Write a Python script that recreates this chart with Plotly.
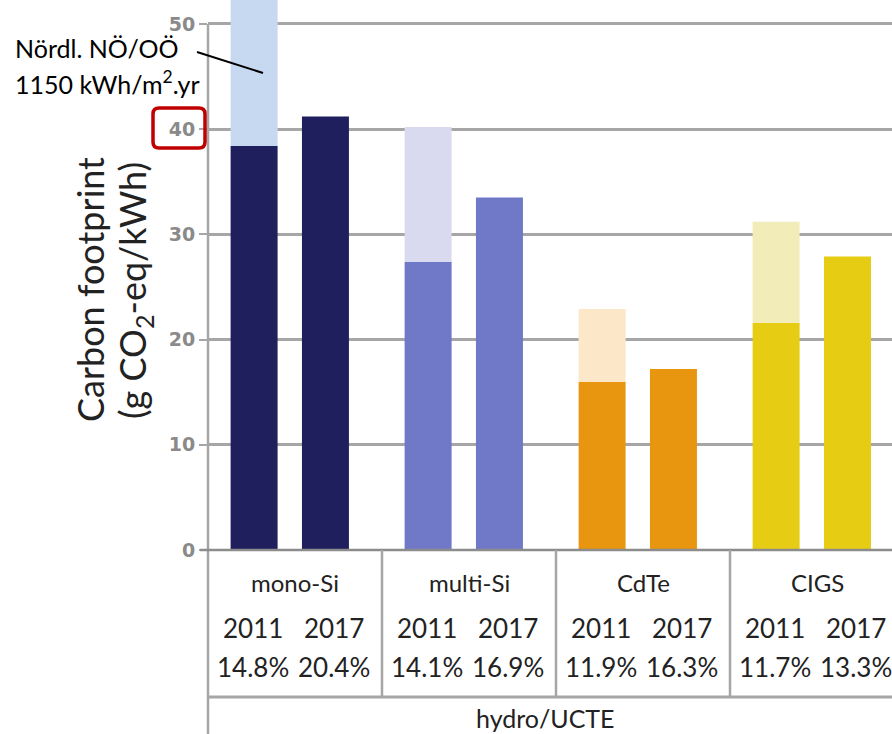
import plotly.graph_objects as go

# PV technologies and their carbon footprint (g CO2-eq/kWh)
categories = ["mono-Si", "multi-Si", "CdTe", "CIGS"]
years = ["2011", "2017"]
footprint_2011 = [38.4, 27.4, 16.0, 21.6]
# 2011 footprint at lower irradiation (Nördl. NÖ/OÖ, 1150 kWh/m².yr)
footprint_2011_low_irr = [55.7, 40.2, 22.9, 31.2]
footprint_2017 = [41.2, 33.5, 17.2, 27.9]
efficiency_2011 = ["14.8%", "14.1%", "11.9%", "11.7%"]
efficiency_2017 = ["20.4%", "16.9%", "16.3%", "13.3%"]
y_ticks = [0, 10, 20, 30, 40, 50]

dark_colors = ["#1f1f5e", "#7078c8", "#e8950f", "#e6cc12"]
light_colors = ["#c6d9f0", "#d9daef", "#fde7c9", "#f2ecb8"]

W, H = 892, 734
ML, MB = 208, 184
PW, PH = W - ML, H - MB
Y_MAX = 52.28
X_RANGE = [-0.5, 3.431]

def px(x):
    return (x - ML) / PW

def py(y):
    return (PH - y) / PH

BAR_W = 0.27
fig = go.Figure()
fig.add_bar(x=categories, y=footprint_2011, width=BAR_W, offset=-0.37,
            marker=dict(color=dark_colors, line=dict(width=0)), name="2011")
fig.add_bar(x=categories,
            y=[hi - lo for hi, lo in zip(footprint_2011_low_irr, footprint_2011)],
            base=footprint_2011, width=BAR_W, offset=-0.37,
            marker=dict(color=light_colors, line=dict(width=0)),
            name="2011 (1150 kWh/m².yr)")
fig.add_bar(x=categories, y=footprint_2017, width=BAR_W, offset=0.04,
            marker=dict(color=dark_colors, line=dict(width=0)), name="2017")

grey = "#a6a6a6"
shapes = [
    # vertical axis line running down through the table
    dict(type="line", xref="paper", yref="paper", x0=0, x1=0,
         y0=py(24), y1=py(H), line=dict(color=grey, width=2.5)),
    # baseline
    dict(type="line", xref="paper", yref="paper", x0=px(200), x1=1,
         y0=0, y1=0, line=dict(color="#8c8c8c", width=2.5)),
    # line under the efficiency row
    dict(type="line", xref="paper", yref="paper", x0=0, x1=1,
         y0=py(697), y1=py(697), line=dict(color=grey, width=3)),
    # leader line for the irradiation note
    dict(type="line", xref="paper", yref="paper", x0=px(197), x1=px(263),
         y0=py(52), y1=py(73), line=dict(color="black", width=2)),
]
for b in [0.5, 1.5, 2.5]:
    shapes.append(dict(type="line", xref="x", yref="paper", x0=b, x1=b,
                       y0=0, y1=py(697), line=dict(color=grey, width=2.5)))

# rounded red frame around the "40" tick label
x0, x1, y0, y1 = px(153), px(205), py(148), py(108)
rx, ry = 6 / PW, 6 / PH
path = (f"M{x0+rx},{y0} L{x1-rx},{y0} Q{x1},{y0} {x1},{y0+ry} "
        f"L{x1},{y1-ry} Q{x1},{y1} {x1-rx},{y1} L{x0+rx},{y1} "
        f"Q{x0},{y1} {x0},{y1-ry} L{x0},{y0+ry} Q{x0},{y0} {x0+rx},{y0} Z")
shapes.append(dict(type="path", xref="paper", yref="paper", path=path,
                   line=dict(color="#c00000", width=3.5)))

FONT = "Lato"
txt_color = "#222222"
ann = []
for i, cat in enumerate(categories):
    ann.append(dict(x=i, y=py(582), xref="x", yref="paper", text=cat,
                    showarrow=False, xanchor="center", yanchor="middle",
                    font=dict(family=FONT, size=24, color=txt_color)))
    for shift, yr, eff in [(-42, years[0], efficiency_2011[i]),
                           (39, years[1], efficiency_2017[i])]:
        ann.append(dict(x=i, y=py(628), xref="x", yref="paper", text=yr,
                        xshift=shift, showarrow=False, xanchor="center",
                        yanchor="middle",
                        font=dict(family=FONT, size=26, color=txt_color)))
        ann.append(dict(x=i, y=py(667), xref="x", yref="paper", text=eff,
                        xshift=shift, showarrow=False, xanchor="center",
                        yanchor="middle",
                        font=dict(family=FONT, size=26, color=txt_color)))

ann.append(dict(x=px(545), y=py(718), xref="paper", yref="paper",
                text="hydro/UCTE", showarrow=False, xanchor="center",
                yanchor="middle",
                font=dict(family=FONT, size=25, color=txt_color)))

# y-axis title (two lines)
ann.append(dict(x=px(90), y=py(290), xref="paper", yref="paper",
                text="Carbon footprint", textangle=-90, showarrow=False,
                xanchor="center", yanchor="middle",
                font=dict(family=FONT, size=36, color=txt_color)))
ann.append(dict(x=px(134), y=py(291), xref="paper", yref="paper",
                text="(g CO<sub>2</sub>-eq/kWh)", textangle=-90, showarrow=False,
                xanchor="center", yanchor="middle",
                font=dict(family=FONT, size=36, color=txt_color)))

# irradiation note
ann.append(dict(x=px(13), y=py(48), xref="paper", yref="paper",
                text="Nördl. NÖ/OÖ", showarrow=False, xanchor="left",
                yanchor="middle", font=dict(family=FONT, size=25, color="black")))
ann.append(dict(x=px(13), y=py(83), xref="paper", yref="paper",
                text="1150 kWh/m<sup>2</sup>.yr", showarrow=False, xanchor="left",
                yanchor="middle", font=dict(family=FONT, size=25, color="black")))

fig.update_layout(
    width=W, height=H,
    margin=dict(l=ML, r=0, t=0, b=MB),
    paper_bgcolor="white", plot_bgcolor="white",
    barmode="overlay", showlegend=False,
    shapes=shapes, annotations=ann,
    xaxis=dict(range=X_RANGE, showticklabels=False, showgrid=False,
               zeroline=False, showline=False, ticks=""),
    yaxis=dict(range=[0, Y_MAX], tickvals=y_ticks, showgrid=True,
               gridcolor=grey, gridwidth=3, zeroline=False, showline=False,
               ticks="outside", ticklen=8, tickwidth=2, tickcolor=grey,
               tickfont=dict(family="DejaVu Sans", size=19, color="#8a8a8a",
                             weight="bold")),
)

fig.write_html("out.html")
